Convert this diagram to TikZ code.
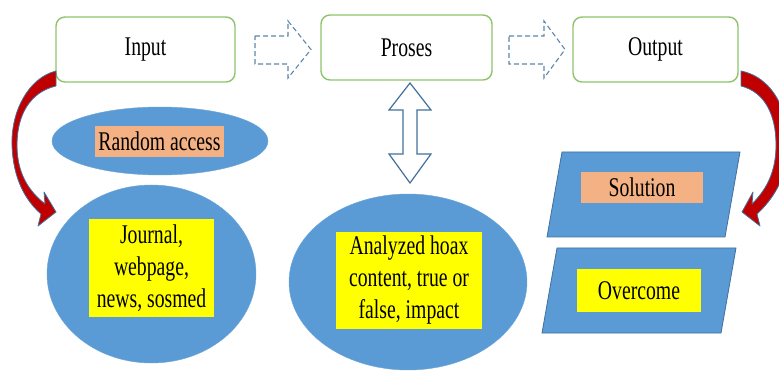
\documentclass[tikz,border=0pt]{standalone}
\usepackage{fontspec}
\setmainfont{Liberation Serif}
\newfontfamily\condfont[FakeStretch=0.73]{Liberation Serif}
\usetikzlibrary{shapes.geometric}
\definecolor{obl}{HTML}{5B9BD5}
\definecolor{oed}{HTML}{41719C}
\definecolor{ogr}{HTML}{8DC46B}
\definecolor{oor}{HTML}{F4B183}
\definecolor{oye}{HTML}{FFFF00}
\definecolor{ored}{HTML}{C00000}
\begin{document}
\begin{tikzpicture}[x=1pt,y=-1pt,
  txt/.style={font=\condfont\fontsize{27}{32}\selectfont, text=black},
  stagebox/.style={draw=ogr, line width=1.4pt, rounded corners=9pt, fill=white, minimum height=65pt, inner sep=0pt, txt},
  dasharrow/.style={draw=oed!85, line width=1.1pt, dash pattern=on 5pt off 3pt, line join=miter},
  dblarrow/.style={draw=oed, fill=white, line width=1.2pt},
  blob/.style={ellipse, fill=obl, draw=obl!90!white, inner sep=0pt},
  tag/.style={rectangle, inner sep=0pt, align=center, txt},
  para/.style={fill=obl, draw=oed, line width=0.8pt},
  redcurve/.style={fill=ored, draw=oed, line width=0.8pt, line join=round}]
\useasboundingbox (0,0) rectangle (779,371);
% top stages
\node[stagebox, minimum width=179pt] (input) at (145.5,49.5) {Input};
\node[stagebox, minimum width=171pt] (proses) at (406.5,47.5) {Proses};
\node[stagebox, minimum width=165pt] (output) at (655.5,49.5) {Output};
% dashed block arrows
\draw[dasharrow] (255,36) -- (288,36) -- (288,21) -- (311,49.5) -- (288,78) -- (288,64) -- (255,64) -- cycle;
\draw[dasharrow] (509,36) -- (544,36) -- (544,21) -- (565,49.5) -- (544,78) -- (544,64) -- (509,64) -- cycle;
% double arrow
\draw[dblarrow] (410,83) -- (431,110) -- (417,110) -- (417,154) -- (431,154) -- (410,183) -- (389,154) -- (403,154) -- (403,110) -- (389,110) -- cycle;
% ellipses
\node[blob, minimum width=216pt, minimum height=68pt] (rael) at (160,141) {};
\node[tag, fill=oor, minimum width=129pt, minimum height=31pt] (ra) at (159.5,141.5) {Random access};
\node[blob, minimum width=209pt, minimum height=178pt] (jel) at (151.5,274) {};
\node[tag, fill=oye, minimum width=125pt, minimum height=98pt] (jo) at (151.5,268) {Journal,\\webpage,\\news, sosmed};
\node[blob, minimum width=238pt, minimum height=176pt] (anel) at (408,282) {};
\node[tag, fill=oye, minimum width=146pt, minimum height=97pt] (an) at (409,280.5) {Analyzed hoax\\content, true or\\false, impact};
% parallelograms
\filldraw[para] (562,152) -- (740,152) -- (725,237) -- (547,237) -- cycle;
\node[tag, fill=oor, minimum width=122pt, minimum height=31pt] (so) at (642,187.5) {Solution};
\filldraw[para] (557,248) -- (736,248) -- (721,333) -- (542,333) -- cycle;
\node[tag, fill=oye, minimum width=124pt, minimum height=43pt] (ov) at (639,290.5) {Overcome};
% red curved arrows
\filldraw[redcurve] (56,71) .. controls (28,78) and (11,112) .. (12,145) .. controls (13,178) and (25,200) .. (41,214)
  -- (38,226) -- (56,212) -- (44,192) -- (45,204)
  .. controls (30,192) and (17,175) .. (17,145) .. controls (17,115) and (30,92) .. (56,86) -- cycle;
\filldraw[redcurve] (741,71) .. controls (775,78) and (790,115) .. (788,150) .. controls (786,180) and (772,200) .. (757,214)
  -- (760,226) -- (742,212) -- (753,192) -- (752,204)
  .. controls (768,188) and (776,170) .. (776,145) .. controls (776,115) and (765,92) .. (741,86) -- cycle;
\end{tikzpicture}
\end{document}
